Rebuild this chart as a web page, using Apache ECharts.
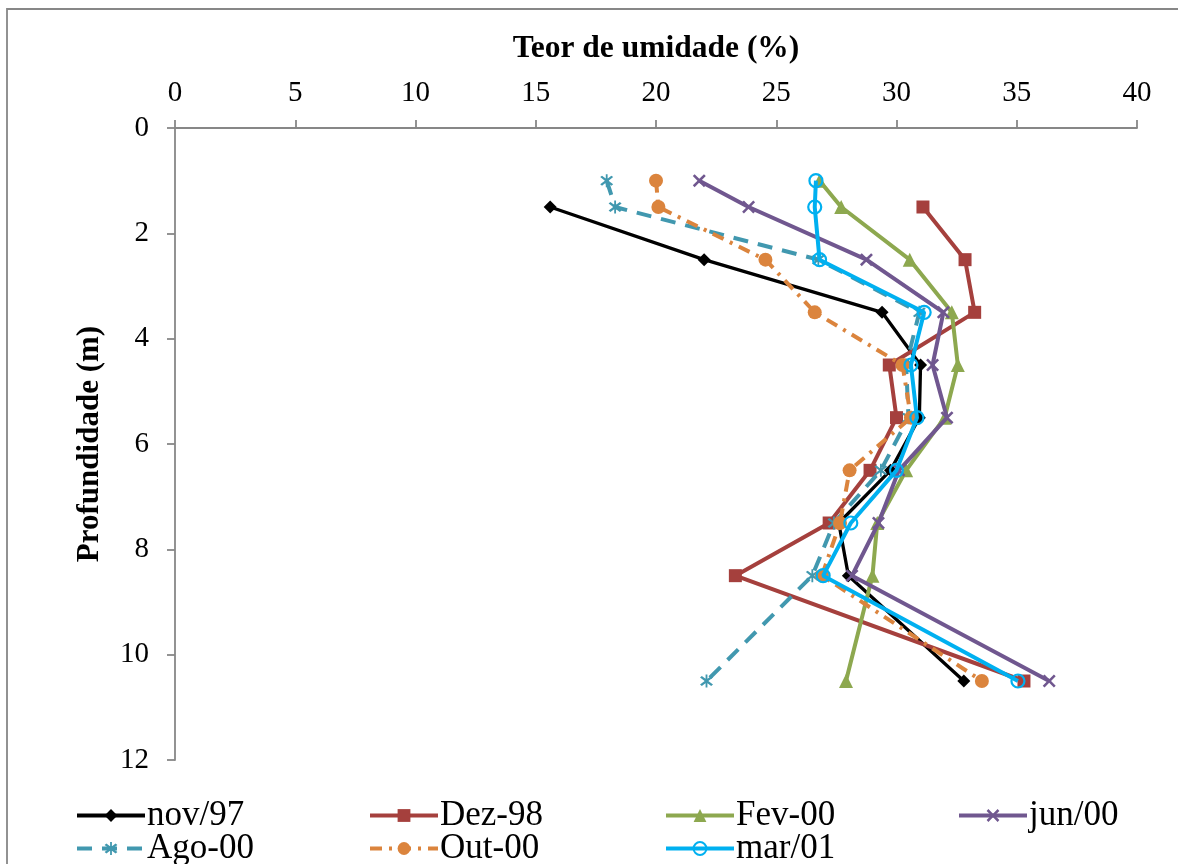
<!DOCTYPE html>
<html>
<head>
<meta charset="utf-8">
<script src="https://cdn.jsdelivr.net/npm/echarts@6/dist/echarts.min.js"></script>
<style>
html,body{margin:0;padding:0;background:#fff;}
#chart{width:1178px;height:864px;}
</style>
</head>
<body>
<div id="chart"></div>
<script>
// Depths (m)
var depths = [1, 1.5, 2.5, 3.5, 4.5, 5.5, 6.5, 7.5, 8.5, 10.5];
// Moisture content (%) per campaign, aligned with depths (null = no reading)
var nov97 = [null, 15.6, 22.0, 29.4, 31.0, 30.95, 29.75, 27.6, 28.0, 32.8];
var dez98 = [null, 31.1, 32.85, 33.25, 29.7, 30.0, 28.9, 27.2, 23.3, 35.3];
var fev00 = [26.8, 27.7, 30.55, 32.3, 32.55, 32.0, 30.4, 29.2, 29.0, 27.9];
var jun00 = [21.8, 23.85, 28.75, 31.95, 31.5, 32.1, 30.1, 29.25, 28.15, 36.35];
var ago00 = [17.95, 18.3, 26.75, 30.95, 30.4, 30.5, 29.35, 27.4, 26.5, 22.1];
var out00 = [20.0, 20.1, 24.55, 26.6, 30.25, 30.6, 28.05, 27.65, 26.9, 33.55];
var mar01 = [26.65, 26.6, 26.8, 31.15, 30.6, 30.85, 30.0, 28.1, 26.95, 35.05];

var seriesNames = ['nov/97', 'Dez-98', 'Fev-00', 'jun/00', 'Ago-00', 'Out-00', 'mar/01'];
var xTicks = [0, 5, 10, 15, 20, 25, 30, 35, 40];
var yTicks = [0, 2, 4, 6, 8, 10, 12];

function pairs(vals) {
  var out = [];
  for (var i = 0; i < vals.length; i++) {
    if (vals[i] !== null) out.push([vals[i], depths[i]]);
  }
  return out;
}

var FONT = '"Liberation Serif", "Times New Roman", serif';
var X_PATH = 'path://M0,1.4L1.4,0L5,3.6L8.6,0L10,1.4L6.4,5L10,8.6L8.6,10L5,6.4L1.4,10L0,8.6L3.6,5Z';
var AST_PATH = 'path://M0,1.4L1.4,0L5,3.6L8.6,0L10,1.4L6.4,5L10,8.6L8.6,10L5,6.4L1.4,10L0,8.6L3.6,5Z M4.3,-1.5L5.7,-1.5L5.7,11.5L4.3,11.5Z';

var styles = [
  {color: '#000000', symbol: 'diamond', size: 13, type: 'solid', width: 3.3},
  {color: '#A5403D', symbol: 'rect', size: 13, type: 'solid', width: 4},
  {color: '#8DA84F', symbol: 'triangle', size: 14, type: 'solid', width: 4},
  {color: '#70578F', symbol: X_PATH, size: 13, type: 'solid', width: 4},
  {color: '#4198AF', symbol: AST_PATH, size: 13, type: [15, 10], width: 4},
  {color: '#DB843D', symbol: 'circle', size: 14, type: [12, 7, 3, 7], width: 4},
  {color: '#00B0F0', symbol: 'circle', size: 13, type: 'solid', width: 4, hollow: true}
];
var dataSets = [nov97, dez98, fev00, jun00, ago00, out00, mar01];

var series = seriesNames.map(function (name, i) {
  var s = styles[i];
  return {
    name: name,
    type: 'line',
    data: pairs(dataSets[i]),
    symbol: s.symbol,
    symbolSize: s.size,
    showAllSymbol: true,
    lineStyle: {color: s.color, width: s.width, type: s.type},
    itemStyle: s.hollow
      ? {color: 'rgba(255,255,255,0)', borderColor: s.color, borderWidth: 2.2}
      : {color: s.color, borderWidth: 0},
    emphasis: {disabled: true},
    animation: false,
    z: 2 + i
  };
});

var legendPos = [
  {left: 75, top: 798}, {left: 368, top: 798}, {left: 664, top: 798}, {left: 957, top: 798},
  {left: 75, top: 831}, {left: 368, top: 831}, {left: 664, top: 831}
];
var legends = seriesNames.map(function (name, i) {
  return {
    data: [name],
    left: legendPos[i].left,
    top: legendPos[i].top,
    itemWidth: 68,
    itemHeight: 16,
    itemGap: 0,
    padding: 0,
    selectedMode: false,
    lineStyle: {width: 4},
    textStyle: {fontFamily: FONT, fontSize: 35, color: '#000', padding: [0, 0, 0, -3]}
  };
});

var chart = echarts.init(document.getElementById('chart'), null, {renderer: 'canvas'});
chart.setOption({
  backgroundColor: '#ffffff',
  animation: false,
  graphic: [{
    type: 'rect',
    shape: {x: 7, y: 9, width: 1250, height: 950},
    style: {fill: 'none', stroke: '#878787', lineWidth: 1.8},
    silent: true
  }],
  grid: {left: 175, top: 128, right: 41, bottom: 104, containLabel: false},
  xAxis: {
    type: 'value',
    position: 'top',
    min: 0, max: 40, interval: 5,
    name: 'Teor de umidade (%)',
    nameLocation: 'middle',
    nameGap: 63,
    nameTextStyle: {fontFamily: FONT, fontSize: 31.5, fontWeight: 'bold', color: '#000'},
    axisLine: {show: true, lineStyle: {color: '#878787', width: 1.8}},
    axisTick: {show: true, length: 8, lineStyle: {color: '#878787', width: 1.8}},
    axisLabel: {fontFamily: FONT, fontSize: 29, color: '#000', margin: 20},
    splitLine: {show: false}
  },
  yAxis: {
    type: 'value',
    inverse: true,
    min: 0, max: 12, interval: 2,
    name: 'Profundidade (m)',
    nameLocation: 'middle',
    nameGap: 70,
    nameRotate: 90,
    nameTextStyle: {fontFamily: FONT, fontSize: 31, fontWeight: 'bold', color: '#000'},
    axisLine: {show: true, lineStyle: {color: '#878787', width: 1.8}},
    axisTick: {show: true, length: 8, lineStyle: {color: '#878787', width: 1.8}},
    axisLabel: {fontFamily: FONT, fontSize: 29, color: '#000', margin: 26},
    splitLine: {show: false}
  },
  legend: legends,
  series: series
});
</script>
</body>
</html>
